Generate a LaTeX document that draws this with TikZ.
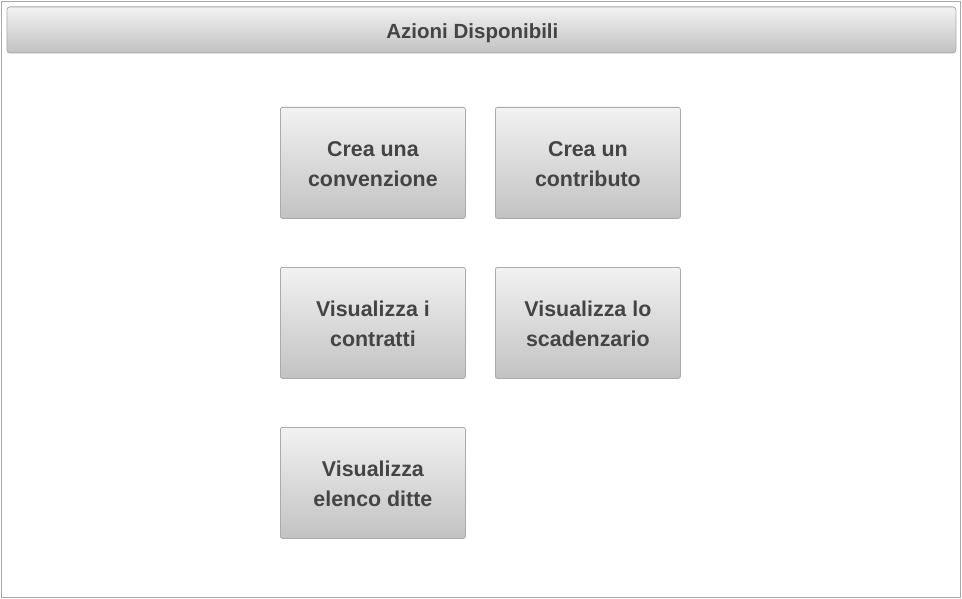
\documentclass[tikz,border=0pt]{standalone}
\usepackage{fontspec}
\setmainfont{Liberation Sans}
\usetikzlibrary{positioning}
\definecolor{frame}{HTML}{A8A8A8}
\definecolor{gtop}{HTML}{F2F2F2}
\definecolor{gbot}{HTML}{C2C2C2}
\definecolor{txt}{HTML}{444444}
\definecolor{bord}{HTML}{ABABAB}
\tikzset{
  btn/.style={draw=bord, line width=0.8pt, rounded corners=2pt, top color=gtop, bottom color=gbot,
    minimum width=185pt, minimum height=111pt, inner sep=0pt, anchor=north west},
  btntext/.style={align=center, text=txt, inner sep=0pt, font=\fontsize{21.4}{30}\selectfont\bfseries},
  hdr/.style={draw=bord, line width=0.8pt, rounded corners=3pt, top color=gtop, bottom color=gbot,
    minimum width=949pt, minimum height=46pt, inner sep=0pt, anchor=north west},
  hdrtext/.style={text=txt, font=\fontsize{20.5}{24}\selectfont\bfseries, inner sep=0pt},
}
\begin{document}
\begin{tikzpicture}[x=1pt,y=-1pt]
\useasboundingbox (0,0) rectangle (962,599);
\draw[frame, line width=1pt] (1.5,1.5) rectangle (960,597.5);
\node[hdr] (h) at (6.5,6.5) {};
\node[hdrtext] (ht) at ([xshift=-9pt,yshift=-3.5pt]h.center) {Azioni Disponibili};
\node[btn] (b1) at (280,107) {};
\node[btn] (b2) at (495,107) {};
\node[btn] (b3) at (280,267) {};
\node[btn] (b4) at (495,267) {};
\node[btn] (b5) at (280,427) {};
\node[btntext] (t1) at ([yshift=-1pt]b1.center) {Crea una\\convenzione};
\node[btntext] (t2) at ([yshift=-1pt]b2.center) {Crea un\\contributo};
\node[btntext] (t3) at ([yshift=-1pt]b3.center) {Visualizza i\\contratti};
\node[btntext] (t4) at ([yshift=-1pt]b4.center) {Visualizza lo\\scadenzario};
\node[btntext] (t5) at ([yshift=-1pt]b5.center) {Visualizza\\elenco ditte};
\end{tikzpicture}
\end{document}
